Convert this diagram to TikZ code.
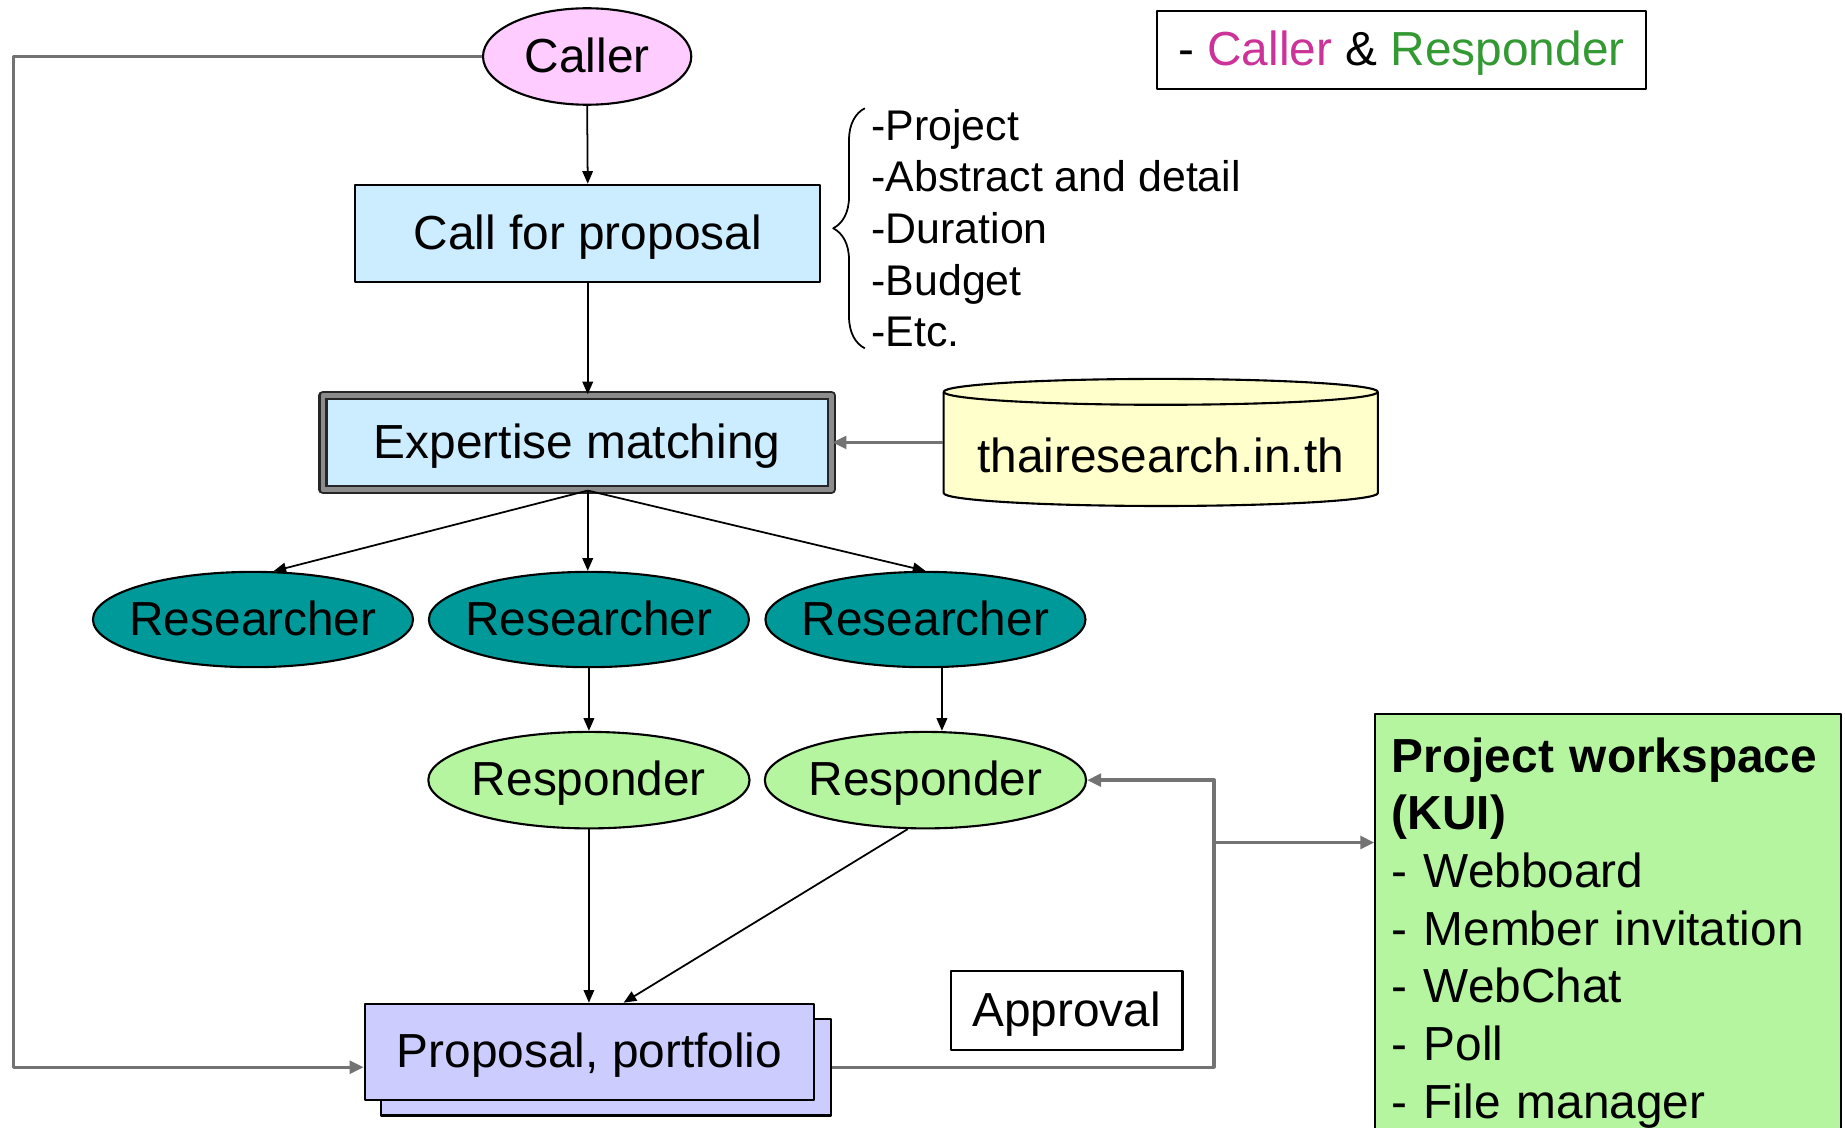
\documentclass[tikz,border=0pt]{standalone}
\usepackage{fontspec}
\setmainfont{Liberation Sans}
\usetikzlibrary{shapes.geometric,shadows,arrows.meta,calc,decorations.pathreplacing}
\newcommand{\upx}{0.011767cm}

\begin{document}
\begin{tikzpicture}[x=\upx, y=\upx, line join=round,
    every node/.style={font=\fontsize{13.6}{16.4}\selectfont, inner sep=0pt},
    box/.style={draw, line width=0.6pt, text height=0.9em, text depth=0pt},
    oval/.style={ellipse, draw, line width=0.6pt, inner xsep=-6pt,
      text height=0.9em, text depth=0pt,
      minimum width=272*\upx, minimum height=81*\upx},
    arr/.style={line width=0.5pt, -{Triangle[length=3.6pt,width=3pt]}},
    gline/.style={line width=1pt, draw=black!55, -{Triangle[length=4pt,width=3.6pt]}, draw=black!55}]
  \definecolor{callpink}{HTML}{FFCCFF}
  \definecolor{cfpblue}{HTML}{CCECFF}
  \definecolor{dbyellow}{HTML}{FFFFCC}
  \definecolor{resteal}{HTML}{009999}
  \definecolor{respgreen}{RGB}{181,245,160}
  \definecolor{ppblue}{HTML}{CCCCFF}
  \definecolor{keypink}{HTML}{CC3399}
  \definecolor{keygreen}{HTML}{339933}
  \useasboundingbox (0,0) rectangle (1568,-958);
  \fill[white] (0,0) rectangle (1568,-958);

  % top of the flow
  \node[oval, fill=callpink, minimum width=177*\upx, minimum height=82*\upx] (caller) at (499,-48) {Caller};
  \node[box, fill=cfpblue, minimum width=395*\upx, minimum height=83*\upx] (cfp) at (499.5,-198.5) {Call for proposal};
  \node[align=left, anchor=west, font=\fontsize{12.2}{14.7}\selectfont] (items) at (740,-194)
    {-Project\\-Abstract and detail\\-Duration\\-Budget\\-Etc.};
  \draw[decorate, decoration={brace, amplitude=9pt}, line width=0.5pt]
    ($(items.west)+(-5,-102)$) -- ($(items.west)+(-5,102)$);

  \node[box, fill=cfpblue, draw=black!85, double=black!45, double distance=1.4pt,
    minimum width=432*\upx, minimum height=80*\upx] (ex) at (490.5,-376) {Expertise matching};

  % database
  \filldraw[fill=dbyellow, line width=0.6pt] (802,-333) -- (802,-419)
    arc[start angle=180, end angle=360, x radius=184.5, y radius=11] -- (1171,-333);
  \draw[fill=dbyellow, line width=0.6pt] (986.5,-333) ellipse[x radius=184.5, y radius=11];
  \node[minimum width=369*\upx, minimum height=86*\upx] (db) at (986.5,-387) {thairesearch.in.th};

  % researchers and responders
  \node[oval, fill=resteal] (r1) at (215,-526.5) {Researcher};
  \node[oval, fill=resteal] (r2) at (500.5,-526.5) {Researcher};
  \node[oval, fill=resteal] (r3) at (786.5,-526.5) {Researcher};
  \node[oval, fill=respgreen, minimum width=273*\upx, minimum height=82*\upx] (resp1) at (500.5,-663) {Responder};
  \node[oval, fill=respgreen, minimum width=273*\upx, minimum height=82*\upx] (resp2) at (786.5,-663) {Responder};

  % bottom
  \node[box, fill=ppblue, minimum width=382*\upx, minimum height=82*\upx,
    copy shadow={shadow xshift=14*\upx, shadow yshift=-13*\upx, fill=ppblue, draw=black, line width=0.6pt}]
    (pp) at (501,-894) {Proposal, portfolio};
  \node[box, fill=white, minimum width=197*\upx, minimum height=67*\upx] (apv) at (906.5,-858.5) {Approval};
  \node[draw, line width=0.6pt, fill=respgreen, anchor=north west, align=left, text width=368*\upx,
    inner xsep=14*\upx, inner ysep=20*\upx] (ws) at (1168,-606)
    {\textbf{Project workspace}\\\textbf{(KUI)}\\- Webboard\\- Member invitation\\- WebChat\\- Poll\\- File manager\\~};
  \node[box, minimum width=416*\upx, minimum height=67*\upx] (key) at (1191,-42.5)
    {- \textcolor{keypink}{Caller} \& \textcolor{keygreen}{Responder}};

  % connectors
  \draw[arr] (caller.south) -- (cfp.north);
  \draw[arr] (cfp.south) -- (cfp.south |- ex.north);
  \coordinate (fan) at (cfp.south |- ex.south);
  \draw[arr] (fan) -- (r1.67);
  \draw[arr] (fan) -- (fan |- r2.north);
  \draw[arr] (fan) -- (r3.north);
  \draw[arr] (r2.south) -- (resp1.north);
  \draw[arr] ($(r3.south)+(14,0)$) -- ($(resp2.north)+(14,0)$);
  \draw[arr] (resp1.south) -- (resp1.south |- pp.north);
  \draw[arr] (resp2.250) -- ($(pp.north)+(29,0)$);
  \draw[gline] (db.west |- ex.east) -- (ex.east);
  \draw[gline] (caller.west) -- ++(-398,0) |- ($(pp.west)+(0,-13)$);
  \draw[gline] ($(pp.east)+(14,-13)$) -- ++(325,0) |- (resp2.east);
  \coordinate (tap) at (1031,-716);
  \draw[gline] (tap) -- (tap -| ws.west);
\end{tikzpicture}
\end{document}
